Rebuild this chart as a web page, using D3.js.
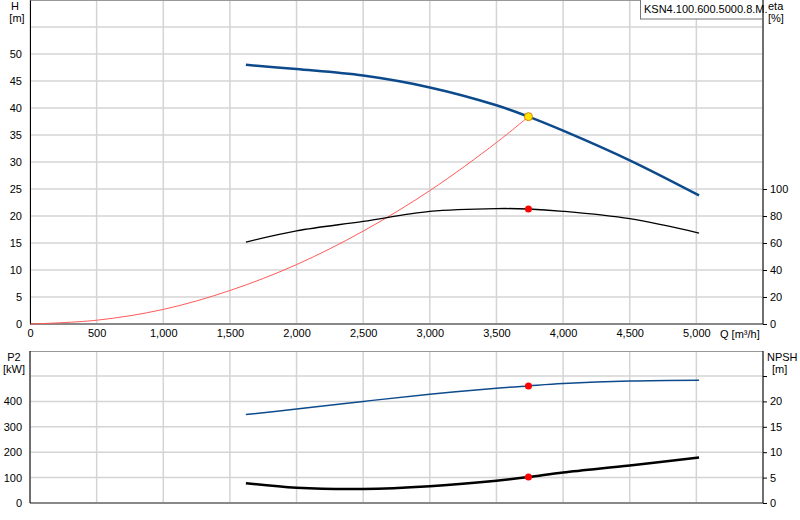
<!DOCTYPE html>
<html><head><meta charset="utf-8">
<script src="https://cdn.jsdelivr.net/npm/d3@7"></script>
<style>body{margin:0;background:#fff}text{font-family:"Liberation Sans",Arial,sans-serif;font-size:11px;fill:#000}</style>
</head><body><svg id="c" width="800" height="520"></svg>
<script>
const qTicks=[0,500,1000,1500,2000,2500,3000,3500,4000,4500,5000];
const hTicks=[0,5,10,15,20,25,30,35,40,45,50];
const etaTicks=[0,20,40,60,80,100];
const p2Ticks=[0,100,200,300,400];
const npshTicks=[0,5,10,15,20];
const headQ=[1620,2000,2500,3000,3500,3740,4000,4500,5020];
const headH=[48,47.2,46,43.8,40.5,38.4,35.8,30.3,23.8];
const etaQ=[1620,2000,2500,3000,3500,3740,4000,4500,5020];
const etaV=[60.7,69,76,83.4,85.5,85.2,83.5,78,67.4];
const sysQ=[0,500,1000,1500,2000,2500,3000,3500,3740];
const sysH=[0,0.7,2.7,6.2,11,17.2,24.7,33.6,38.4];
const p2Q=[1620,2000,2500,3000,3500,3740,4000,4500,5020];
const p2V=[348,370,400,428,452,461,470,480,483];
const npshQ=[1620,2000,2500,3000,3500,3740,4000,4500,5020];
const npshV=[3.9,3.0,2.75,3.3,4.4,5.1,6.0,7.4,8.95];
const dutyQ=3740, dutyH=38.4, dutyEta=85.2, dutyP2=461, dutyNpsh=5.1;
const label="KSN4.100.600.5000.8.M.";

const svg=d3.select("#c");
const x=d3.scaleLinear().domain([0,5500]).range([30,763]);
const yH=d3.scaleLinear().domain([0,60]).range([324,0]);
const yE=d3.scaleLinear().domain([0,240]).range([324,0]);
const yP=d3.scaleLinear().domain([0,500]).range([503,376]);
const yN=d3.scaleLinear().domain([0,25]).range([503,376]);
const grid="#d4d4d4";
function vgrid(y0,y1){svg.append("g").selectAll("line").data(qTicks.concat([5500])).join("line")
 .attr("x1",d=>x(d)).attr("x2",d=>x(d)).attr("y1",y0).attr("y2",y1).attr("stroke",grid).attr("stroke-width",1.5);}
vgrid(0,324);
svg.append("g").selectAll("line").data(hTicks.concat([55])).join("line")
 .attr("x1",30).attr("x2",763).attr("y1",d=>yH(d)).attr("y2",d=>yH(d)).attr("stroke",grid).attr("stroke-width",1.5);
svg.append("line").attr("x1",30).attr("x2",763).attr("y1",0.5).attr("y2",0.5).attr("stroke","#999");
svg.append("line").attr("x1",30).attr("x2",763).attr("y1",324).attr("y2",324).attr("stroke","#888").attr("stroke-width",2);
svg.append("g").attr("transform","translate(30,0)").call(d3.axisLeft(yH).tickValues(hTicks).tickSize(0).tickPadding(8).tickFormat(d3.format("d"))).call(g=>g.select(".domain").attr("stroke","#000"));
svg.append("g").attr("transform","translate(763,0)").call(d3.axisRight(yE).tickValues(etaTicks).tickSize(4).tickPadding(3)).call(g=>g.select(".domain").attr("stroke","#000").attr("d","M0,0V324"));
svg.append("g").attr("transform","translate(0,324)").call(d3.axisBottom(x).tickValues(qTicks).tickSize(0).tickPadding(5).tickFormat(d3.format(","))).call(g=>g.select(".domain").remove());
svg.selectAll(".tick text").style("font-size","11px").style("font-family","'Liberation Sans',Arial,sans-serif");
svg.append("text").attr("x",720).attr("y",338).text("Q [m³/h]");
svg.append("text").attr("x",15).attr("y",10).attr("text-anchor","middle").text("H");
svg.append("text").attr("x",17).attr("y",22).attr("text-anchor","middle").text("[m]");
svg.append("text").attr("x",768).attr("y",10).text("eta");
svg.append("text").attr("x",768).attr("y",22).text("[%]");
svg.append("rect").attr("x",640.5).attr("y",-1).attr("width",122).attr("height",20).attr("fill","#fff").attr("stroke","#777");
svg.append("text").attr("x",644).attr("y",13).text(label);
const L=(xs,ys,sy)=>d3.line().curve(d3.curveCatmullRom).x((d,i)=>x(xs[i])).y((d,i)=>sy(ys[i]))(xs);
svg.append("path").attr("d",L(sysQ,sysH,yH)).attr("fill","none").attr("stroke","#ff5a5a").attr("stroke-width",1);
svg.append("path").attr("d",L(headQ,headH,yH)).attr("fill","none").attr("stroke","#0d4a8c").attr("stroke-width",2.5);
svg.append("path").attr("d",L(etaQ,etaV,yE)).attr("fill","none").attr("stroke","#000").attr("stroke-width",1.3);
svg.append("circle").attr("cx",x(dutyQ)).attr("cy",yH(dutyH)).attr("r",4).attr("fill","#ffe800").attr("stroke","#e08000");
svg.append("circle").attr("cx",x(dutyQ)).attr("cy",yE(dutyEta)).attr("r",3.5).attr("fill","#f00");
vgrid(351,503);
svg.append("g").selectAll("line").data([100,200,300,400,500]).join("line")
 .attr("x1",30).attr("x2",763).attr("y1",d=>yP(d)).attr("y2",d=>yP(d)).attr("stroke",grid).attr("stroke-width",1.5);
svg.append("line").attr("x1",30).attr("x2",763).attr("y1",351.5).attr("y2",351.5).attr("stroke","#999");
svg.append("line").attr("x1",30).attr("x2",763).attr("y1",503).attr("y2",503).attr("stroke","#888").attr("stroke-width",2);
svg.append("g").attr("transform","translate(30,0)").call(d3.axisLeft(yP).tickValues(p2Ticks).tickSize(0).tickPadding(8)).call(g=>g.select(".domain").attr("d","M0,351V503"));
svg.append("g").attr("transform","translate(763,0)").call(d3.axisRight(yN).tickValues(npshTicks.concat([25])).tickSize(4).tickPadding(3).tickFormat(d=>d===25?"":d)).call(g=>g.select(".domain").attr("d","M0,351V503"));
svg.selectAll(".tick text").style("font-size","11px").style("font-family","'Liberation Sans',Arial,sans-serif");
svg.append("text").attr("x",14).attr("y",361).attr("text-anchor","middle").text("P2");
svg.append("text").attr("x",14).attr("y",373).attr("text-anchor","middle").text("[kW]");
svg.append("text").attr("x",767).attr("y",361).text("NPSH");
svg.append("text").attr("x",772).attr("y",373).text("[m]");
svg.append("path").attr("d",L(p2Q,p2V,yP)).attr("fill","none").attr("stroke","#0d4a8c").attr("stroke-width",1.5);
svg.append("path").attr("d",L(npshQ,npshV,yN)).attr("fill","none").attr("stroke","#000").attr("stroke-width",2.5);
svg.append("circle").attr("cx",x(dutyQ)).attr("cy",yP(dutyP2)).attr("r",3.5).attr("fill","#f00");
svg.append("circle").attr("cx",x(dutyQ)).attr("cy",yN(dutyNpsh)).attr("r",3.5).attr("fill","#f00");
</script></body></html>
